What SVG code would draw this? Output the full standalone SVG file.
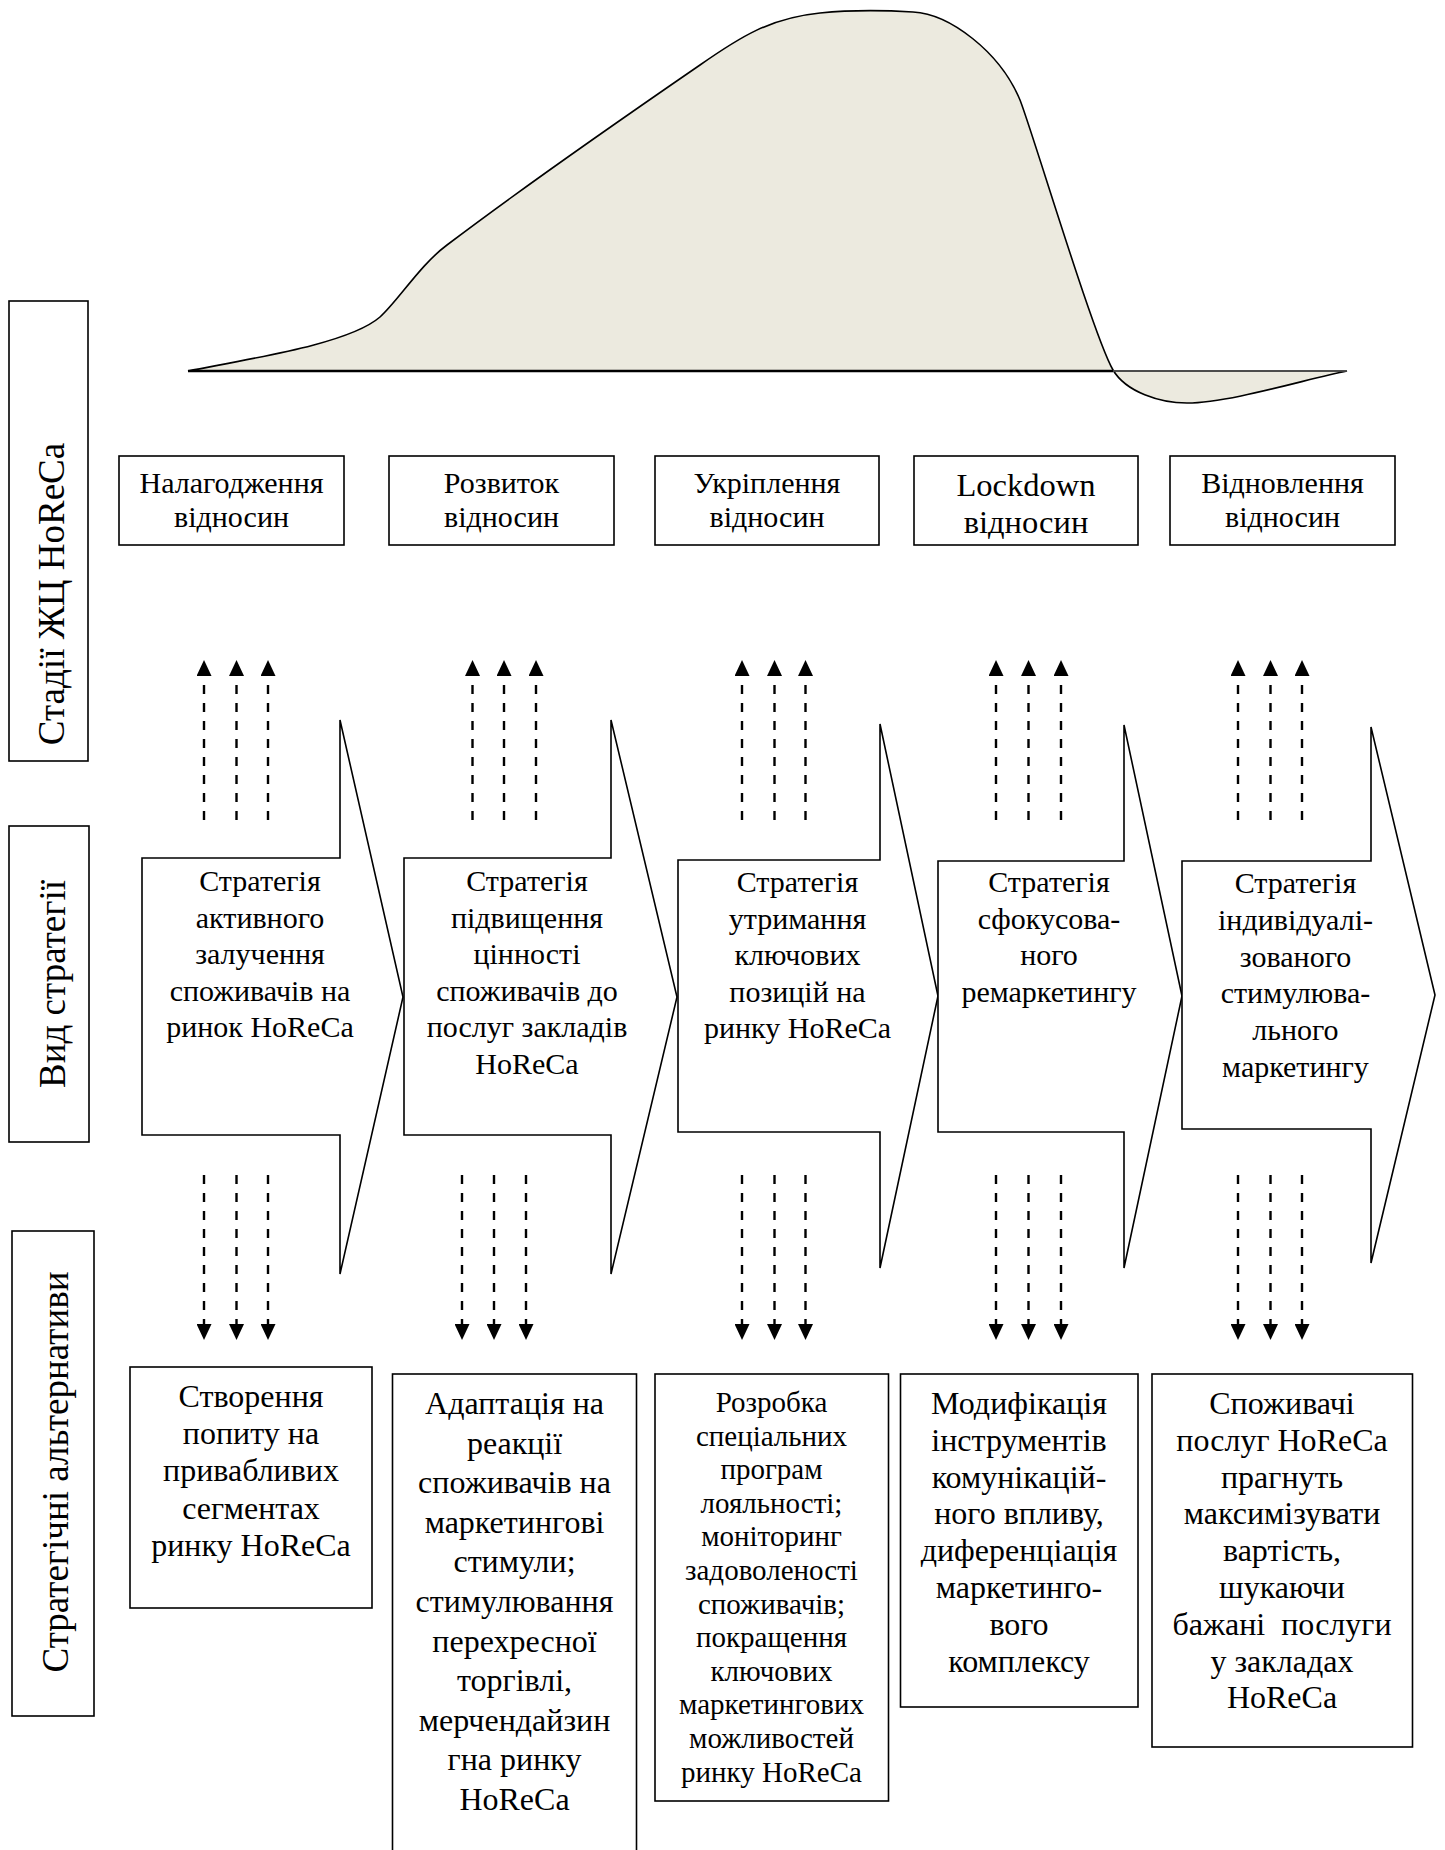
<svg xmlns="http://www.w3.org/2000/svg" width="1445" height="1850" viewBox="0 0 1445 1850">
<style>
text{font-family:"Liberation Serif","Times New Roman",serif;fill:#000;text-anchor:middle}
.box{fill:#fff;stroke:#000;stroke-width:1.6}
.arr{fill:#fff;stroke:#000;stroke-width:1.6;stroke-linejoin:miter}
.dash{stroke:#000;stroke-width:2.4;stroke-dasharray:9 9;fill:none;marker-end:url(#ah)}
.lab{font-size:37px}
.st{font-size:30px}
.sl{font-size:32.5px}
.at{font-size:30px}
.bt{font-size:32px}
.bs{font-size:29px}
</style>
<defs>
<marker id="ah" viewBox="0 0 16 15" refX="0" refY="7.5" markerWidth="16" markerHeight="15" markerUnits="userSpaceOnUse" orient="auto">
<path d="M0,0 L16,7.5 L0,15 z" fill="#000"/>
</marker>
</defs>

<g id="lifecycle-curve">
<path d="M188,371 C260,357 350,343 380,317 C398,301 420,265 447,245 C530,182 620,120 700,65 C740,37 770,18 820,13 C850,10 880,10 913,12 C950,14 1000,52 1020,100 C1032,130 1093,335 1113,370 C1126,392 1160,403 1187,403 C1230,403 1310,378 1347,371 Z" fill="#ECEADF" stroke="#000" stroke-width="1.6"/>
<line x1="188" y1="371" x2="1113" y2="371" stroke="#000" stroke-width="2.6"/>
<line x1="1113" y1="371" x2="1347" y2="371" stroke="#555" stroke-width="1.4"/>
</g>

<g id="label-stages">
<rect class="box" x="9" y="301" width="79" height="460"/>
<text class="lab" transform="translate(64,594) rotate(-90)">Стадії ЖЦ HoReCa</text>
</g>
<g id="label-strategy">
<rect class="box" x="9" y="826" width="80" height="316"/>
<text class="lab" transform="translate(65,984) rotate(-90)">Вид стратегії</text>
</g>
<g id="label-alternatives">
<rect class="box" x="12" y="1231" width="82" height="485"/>
<text class="lab" transform="translate(68,1472) rotate(-90)">Стратегічні альтернативи</text>
</g>

<g id="stage-1">
<rect class="box" x="119" y="456" width="225" height="89"/>
<text class="st" x="231.5" y="493">Налагодження<tspan x="231.5" dy="34">відносин</tspan></text>
</g>
<g id="stage-2">
<rect class="box" x="389" y="456" width="225" height="89"/>
<text class="st" x="501.5" y="493">Розвиток<tspan x="501.5" dy="34">відносин</tspan></text>
</g>
<g id="stage-3">
<rect class="box" x="655" y="456" width="224" height="89"/>
<text class="st" x="767" y="493">Укріплення<tspan x="767" dy="34">відносин</tspan></text>
</g>
<g id="stage-4">
<rect class="box" x="914" y="456" width="224" height="89"/>
<text class="sl" x="1026" y="496">Lockdown<tspan x="1026" dy="37">відносин</tspan></text>
</g>
<g id="stage-5">
<rect class="box" x="1170" y="456" width="225" height="89"/>
<text class="st" x="1282.5" y="493">Відновлення<tspan x="1282.5" dy="34">відносин</tspan></text>
</g>

<g id="strategy-1">
<polygon class="arr" points="142,858 340,858 340,720 403,997 340,1274 340,1135 142,1135"/>
<text class="at" x="260" y="891">Стратегія<tspan x="260" dy="36.5">активного</tspan><tspan x="260" dy="36.5">залучення</tspan><tspan x="260" dy="36.5">споживачів на</tspan><tspan x="260" dy="36.5">ринок HoReCa</tspan></text>
</g>
<g id="strategy-2">
<polygon class="arr" points="404,858 611,858 611,720 677,997 611,1274 611,1135 404,1135"/>
<text class="at" x="527" y="891">Стратегія<tspan x="527" dy="36.5">підвищення</tspan><tspan x="527" dy="36.5">цінності</tspan><tspan x="527" dy="36.5">споживачів до</tspan><tspan x="527" dy="36.5">послуг закладів</tspan><tspan x="527" dy="36.5">HoReCa</tspan></text>
</g>
<g id="strategy-3">
<polygon class="arr" points="678,860 880,860 880,724 938,996 880,1268 880,1132 678,1132"/>
<text class="at" x="797.5" y="892">Стратегія<tspan x="797.5" dy="36.5">утримання</tspan><tspan x="797.5" dy="36.5">ключових</tspan><tspan x="797.5" dy="36.5">позицій на</tspan><tspan x="797.5" dy="36.5">ринку HoReCa</tspan></text>
</g>
<g id="strategy-4">
<polygon class="arr" points="938,861 1124,861 1124,725 1182,996 1124,1268 1124,1132 938,1132"/>
<text class="at" x="1049" y="892">Стратегія<tspan x="1049" dy="36.5">сфокусова-</tspan><tspan x="1049" dy="36.5">ного</tspan><tspan x="1049" dy="36.5">ремаркетингу</tspan></text>
</g>
<g id="strategy-5">
<polygon class="arr" points="1182,861 1371,861 1371,727 1435,995 1371,1263 1371,1129 1182,1129"/>
<text class="at" x="1295.5" y="893">Стратегія<tspan x="1295.5" dy="36.8">індивідуалі-</tspan><tspan x="1295.5" dy="36.8">зованого</tspan><tspan x="1295.5" dy="36.8">стимулюва-</tspan><tspan x="1295.5" dy="36.8">льного</tspan><tspan x="1295.5" dy="36.8">маркетингу</tspan></text>
</g>

<g id="alternative-1">
<rect class="box" x="130" y="1367" width="242" height="241"/>
<text class="bt" x="251" y="1407">Створення<tspan x="251" dy="37.2">попиту на</tspan><tspan x="251" dy="37.2">привабливих</tspan><tspan x="251" dy="37.2">сегментах</tspan><tspan x="251" dy="37.2">ринку HoReCa</tspan></text>
</g>
<g id="alternative-2">
<rect class="box" x="392.5" y="1374" width="244" height="490"/>
<text class="bt" x="514.5" y="1414">Адаптація на<tspan x="514.5" dy="39.6">реакції</tspan><tspan x="514.5" dy="39.6">споживачів на</tspan><tspan x="514.5" dy="39.6">маркетингові</tspan><tspan x="514.5" dy="39.6">стимули;</tspan><tspan x="514.5" dy="39.6">стимулювання</tspan><tspan x="514.5" dy="39.6">перехресної</tspan><tspan x="514.5" dy="39.6">торгівлі,</tspan><tspan x="514.5" dy="39.6">мерчендайзин</tspan><tspan x="514.5" dy="39.6">гна ринку</tspan><tspan x="514.5" dy="39.6">HoReCa</tspan></text>
</g>
<g id="alternative-3">
<rect class="box" x="655" y="1374" width="233.5" height="427"/>
<text class="bs" x="771.5" y="1412">Розробка<tspan x="771.5" dy="33.6">спеціальних</tspan><tspan x="771.5" dy="33.6">програм</tspan><tspan x="771.5" dy="33.6">лояльності;</tspan><tspan x="771.5" dy="33.6">моніторинг</tspan><tspan x="771.5" dy="33.6">задоволеності</tspan><tspan x="771.5" dy="33.6">споживачів;</tspan><tspan x="771.5" dy="33.6">покращення</tspan><tspan x="771.5" dy="33.6">ключових</tspan><tspan x="771.5" dy="33.6">маркетингових</tspan><tspan x="771.5" dy="33.6">можливостей</tspan><tspan x="771.5" dy="33.6">ринку HoReCa</tspan></text>
</g>
<g id="alternative-4">
<rect class="box" x="900.5" y="1374" width="237.5" height="333"/>
<text class="bt" x="1019" y="1414">Модифікація<tspan x="1019" dy="36.8">інструментів</tspan><tspan x="1019" dy="36.8">комунікацій-</tspan><tspan x="1019" dy="36.8">ного впливу,</tspan><tspan x="1019" dy="36.8">диференціація</tspan><tspan x="1019" dy="36.8">маркетинго-</tspan><tspan x="1019" dy="36.8">вого</tspan><tspan x="1019" dy="36.8">комплексу</tspan></text>
</g>
<g id="alternative-5">
<rect class="box" x="1152" y="1374" width="260.5" height="373"/>
<text class="bt" x="1282" y="1414" xml:space="preserve">Споживачі<tspan x="1282" dy="36.8">послуг HoReCa</tspan><tspan x="1282" dy="36.8">прагнуть</tspan><tspan x="1282" dy="36.8">максимізувати</tspan><tspan x="1282" dy="36.8">вартість,</tspan><tspan x="1282" dy="36.8">шукаючи</tspan><tspan x="1282" dy="36.8">бажані  послуги</tspan><tspan x="1282" dy="36.8">у закладах</tspan><tspan x="1282" dy="36.8">HoReCa</tspan></text>
</g>

<g id="connectors">
<line class="dash" x1="204" y1="820" x2="204" y2="676"/>
<line class="dash" x1="236.5" y1="820" x2="236.5" y2="676"/>
<line class="dash" x1="268" y1="820" x2="268" y2="676"/>
<line class="dash" x1="472.5" y1="820" x2="472.5" y2="676"/>
<line class="dash" x1="504" y1="820" x2="504" y2="676"/>
<line class="dash" x1="536" y1="820" x2="536" y2="676"/>
<line class="dash" x1="742" y1="820" x2="742" y2="676"/>
<line class="dash" x1="774.5" y1="820" x2="774.5" y2="676"/>
<line class="dash" x1="805.5" y1="820" x2="805.5" y2="676"/>
<line class="dash" x1="996" y1="820" x2="996" y2="676"/>
<line class="dash" x1="1028.5" y1="820" x2="1028.5" y2="676"/>
<line class="dash" x1="1061" y1="820" x2="1061" y2="676"/>
<line class="dash" x1="1238" y1="820" x2="1238" y2="676"/>
<line class="dash" x1="1270.5" y1="820" x2="1270.5" y2="676"/>
<line class="dash" x1="1302" y1="820" x2="1302" y2="676"/>
<line class="dash" x1="204" y1="1175" x2="204" y2="1324"/>
<line class="dash" x1="236.5" y1="1175" x2="236.5" y2="1324"/>
<line class="dash" x1="268" y1="1175" x2="268" y2="1324"/>
<line class="dash" x1="462" y1="1175" x2="462" y2="1324"/>
<line class="dash" x1="494" y1="1175" x2="494" y2="1324"/>
<line class="dash" x1="526" y1="1175" x2="526" y2="1324"/>
<line class="dash" x1="742" y1="1175" x2="742" y2="1324"/>
<line class="dash" x1="774.5" y1="1175" x2="774.5" y2="1324"/>
<line class="dash" x1="805.5" y1="1175" x2="805.5" y2="1324"/>
<line class="dash" x1="996" y1="1175" x2="996" y2="1324"/>
<line class="dash" x1="1028.5" y1="1175" x2="1028.5" y2="1324"/>
<line class="dash" x1="1061" y1="1175" x2="1061" y2="1324"/>
<line class="dash" x1="1238" y1="1175" x2="1238" y2="1324"/>
<line class="dash" x1="1270.5" y1="1175" x2="1270.5" y2="1324"/>
<line class="dash" x1="1302" y1="1175" x2="1302" y2="1324"/>
</g>
</svg>
